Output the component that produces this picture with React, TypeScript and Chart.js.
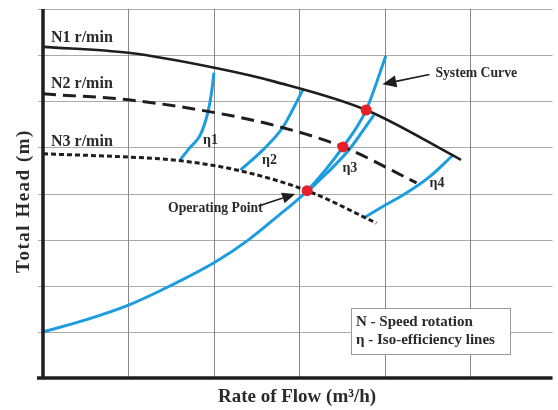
import React, { useEffect, useRef } from "react";
import { Chart, registerables } from "chart.js";

Chart.register(...registerables);

// ---- data (grid units) ----
const xGridValues = [0, 1, 2, 3, 4, 5];
const yGridValues = [0, 1, 2, 3, 4, 5, 6, 7, 8];

const speedN1: [number, number][] = [[0, 7.18], [1, 7.05], [2.02, 6.72], [2.72, 6.42], [3.78, 5.81], [4.89, 4.73]];
const speedN2: [number, number][] = [[0, 6.16], [1, 6.03], [2.02, 5.75], [2.72, 5.47], [3.51, 5.01], [4.37, 4.23]];
const speedN3: [number, number][] = [[0, 4.86], [1, 4.79], [1.61, 4.71], [2.31, 4.49], [3.09, 4.06], [3.9, 3.36]];
const systemCurve: [number, number][] = [[0, 1.0], [0.5, 1.26], [1, 1.58], [1.49, 2.0], [2.02, 2.52], [2.4, 2.99], [2.74, 3.5], [3.09, 4.06], [3.51, 5.01], [3.78, 5.81], [4.01, 6.98]];
const eta1: [number, number][] = [[1.605, 4.73], [1.72, 5.0], [1.84, 5.27], [1.93, 5.77], [1.97, 6.17], [2.0, 6.62]];
const eta2: [number, number][] = [[2.31, 4.51], [2.57, 4.94], [2.8, 5.42], [2.93, 5.85], [3.04, 6.25]];
const eta3: [number, number][] = [[3.12, 4.08], [3.58, 4.95], [3.87, 5.7]];
const eta4: [number, number][] = [[3.77, 3.49], [4.005, 3.75], [4.25, 4.01], [4.52, 4.36], [4.8, 4.84]];
const operatingPoints: [number, number][] = [[3.09, 4.06], [3.51, 5.01], [3.78, 5.81]];

const speedLabels = ["N1 r/min", "N2 r/min", "N3 r/min"];
const etaLabels = ["η1", "η2", "η3", "η4"];
const legendLines = ["N - Speed rotation", "η - Iso-efficiency lines"];
const xTitle = "Rate of Flow (m³/h)";
const yTitle = "Total Head (m)";

const toXY = (arr: [number, number][]) => arr.map(([x, y]) => ({ x, y }));

const BLUE = "#1b9de0";
const SERIF = "'Liberation Serif', 'Times New Roman', serif";

function arrow(ctx: CanvasRenderingContext2D, x1: number, y1: number, x2: number, y2: number, len: number, half: number) {
  const a = Math.atan2(y2 - y1, x2 - x1);
  const bx = x2 - len * Math.cos(a);
  const by = y2 - len * Math.sin(a);
  ctx.beginPath();
  ctx.moveTo(x1, y1);
  ctx.lineTo(bx, by);
  ctx.stroke();
  ctx.beginPath();
  ctx.moveTo(x2, y2);
  ctx.lineTo(bx + half * Math.sin(a), by - half * Math.cos(a));
  ctx.lineTo(bx - half * Math.sin(a), by + half * Math.cos(a));
  ctx.closePath();
  ctx.fill();
}

const decorPlugin = {
  id: "decor",
  beforeDatasetsDraw(chart: any) {
    const { ctx, chartArea, scales } = chart;
    const xs = scales.x;
    const ys = scales.y;
    ctx.save();
    ctx.lineWidth = 1;
    ctx.strokeStyle = "#aaaaaa";
    yGridValues.forEach((v) => {
      const y = Math.round(ys.getPixelForValue(v)) + 0.5;
      ctx.beginPath();
      ctx.moveTo(chartArea.left - 5, y);
      ctx.lineTo(chartArea.right, y);
      ctx.stroke();
    });
    ctx.strokeStyle = "#888888";
    xGridValues.forEach((v) => {
      const x = Math.round(xs.getPixelForValue(v)) + 0.5;
      ctx.beginPath();
      ctx.moveTo(x, chartArea.top);
      ctx.lineTo(x, chartArea.bottom);
      ctx.stroke();
    });
    ctx.restore();
  },
  afterDatasetsDraw(chart: any) {
    const { ctx, chartArea, scales } = chart;
    const xs = scales.x;
    const ys = scales.y;
    const px = (v: number) => xs.getPixelForValue(v);
    const py = (v: number) => ys.getPixelForValue(v);
    ctx.save();
    // axes
    ctx.strokeStyle = "#1e1e1e";
    ctx.lineWidth = 3.5;
    ctx.beginPath();
    ctx.moveTo(chartArea.left, chartArea.top);
    ctx.lineTo(chartArea.left, chartArea.bottom);
    ctx.stroke();
    ctx.beginPath();
    ctx.moveTo(chartArea.left - 6, chartArea.bottom);
    ctx.lineTo(chartArea.right, chartArea.bottom);
    ctx.stroke();

    ctx.fillStyle = "#2a2a2a";
    ctx.textBaseline = "middle";
    ctx.textAlign = "left";
    // speed labels
    ctx.font = `bold 16px ${SERIF}`;
    const speedY = [7.37, 6.37, 5.12];
    speedLabels.forEach((t, i) => ctx.fillText(t, chartArea.left + 8, py(speedY[i])));
    // eta labels
    ctx.font = `bold 14px ${SERIF}`;
    ctx.textAlign = "center";
    const etaPos: [number, number][] = [[1.96, 5.16], [2.65, 4.72], [3.59, 4.55], [4.61, 4.23]];
    etaLabels.forEach((t, i) => ctx.fillText(t, px(etaPos[i][0]), py(etaPos[i][1])));

    // annotations
    ctx.font = `bold 13.7px ${SERIF}`;
    ctx.textAlign = "left";
    ctx.fillText("System Curve", px(4.59), py(6.6));
    ctx.textAlign = "right";
    ctx.fillText("Operating Point", px(2.57), py(3.68));
    ctx.strokeStyle = "#1e1e1e";
    ctx.fillStyle = "#1e1e1e";
    ctx.lineWidth = 1.6;
    arrow(ctx, px(4.52), py(6.58), px(3.97), py(6.37), 14, 6);
    arrow(ctx, px(2.52), py(3.73), px(2.95), py(3.99), 13, 5.5);

    // legend box
    ctx.fillStyle = "#ffffff";
    ctx.strokeStyle = "#9a9a9a";
    ctx.lineWidth = 1;
    ctx.fillRect(351.5, 308.5, 159, 46);
    ctx.strokeRect(351.5, 308.5, 159, 46);
    ctx.fillStyle = "#2a2a2a";
    ctx.textAlign = "left";
    ctx.font = `bold 15px ${SERIF}`;
    ctx.fillText(legendLines[0], 356, 322);
    ctx.fillText(legendLines[1], 356, 340);

    // axis titles
    ctx.font = `bold 19px ${SERIF}`;
    ctx.textAlign = "center";
    ctx.fillText(xTitle, 297, 397);
    ctx.save();
    ctx.translate(24, 201);
    ctx.rotate(-Math.PI / 2);
    (ctx as any).letterSpacing = "1.5px";
    ctx.fillText(yTitle, 0, 0);
    ctx.restore();
    ctx.restore();
  },
};

export default function App() {
  const ref = useRef<HTMLCanvasElement | null>(null);
  useEffect(() => {
    document.body.style.margin = "0";
    const canvas = ref.current!;
    const lineDs = (data: [number, number][], color: string, width: number, dash: number[] = []) => ({
      type: "line" as const,
      data: toXY(data),
      borderColor: color,
      borderWidth: width,
      borderDash: dash,
      pointRadius: 0,
      fill: false,
      cubicInterpolationMode: "monotone" as const,
      borderCapStyle: "butt" as const,
      order: 2,
    });
    const chart = new Chart(canvas, {
      type: "line",
      data: {
        datasets: [
          lineDs(speedN1, "#1e1e1e", 2.6),
          lineDs(speedN2, "#1e1e1e", 3, [13, 7]),
          lineDs(speedN3, "#1e1e1e", 3, [5, 3]),
          lineDs(systemCurve, BLUE, 3),
          lineDs(eta1, BLUE, 3),
          lineDs(eta2, BLUE, 3),
          lineDs(eta3, BLUE, 3),
          lineDs(eta4, BLUE, 3),
          {
            type: "scatter" as const,
            data: toXY(operatingPoints),
            pointRadius: 5.5,
            pointBackgroundColor: "#e8202a",
            pointBorderColor: "#e8202a",
            pointBorderWidth: 0,
            showLine: false,
            order: 0,
          } as any,
        ],
      },
      options: {
        responsive: false,
        animation: false,
        events: [],
        layout: { padding: { left: 43, top: 9, right: 0, bottom: 32 } },
        plugins: { legend: { display: false }, tooltip: { enabled: false }, title: { display: false } },
        scales: {
          x: { type: "linear", min: 0, max: 5.96, display: false },
          y: { type: "linear", min: 0, max: 8, display: false },
        },
      },
      plugins: [decorPlugin],
    });
    return () => chart.destroy();
  }, []);
  return <canvas ref={ref} width={558} height={410} style={{ display: "block", background: "#fff" }} />;
}
